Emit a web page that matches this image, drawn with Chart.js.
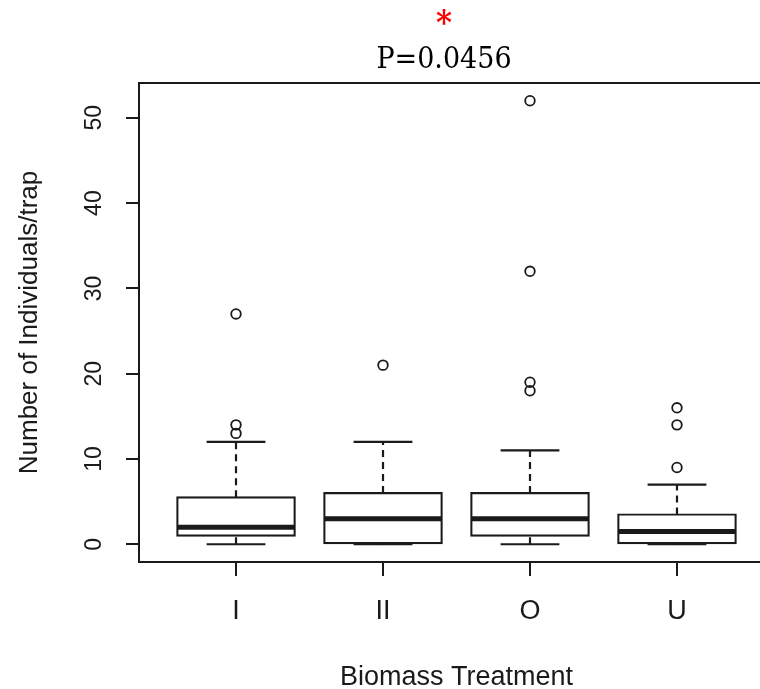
<!DOCTYPE html>
<html>
<head>
<meta charset="utf-8">
<script src="https://cdn.jsdelivr.net/npm/chart.js@4"></script>
<style>
  html, body { margin: 0; padding: 0; background: #fff; overflow: hidden; }
  #wrap { width: 888px; height: 689px; }
</style>
</head>
<body>
<div id="wrap"><canvas id="boxChart" width="888" height="689"></canvas></div>
<script>
// boxplot values
const treatments = ['I', 'II', 'O', 'U'];
const lowerWhisker = [0, 0, 0, 0];
const q1 = [1, 0, 1, 0];
const median = [2, 3, 3, 1.5];
const q3 = [5.5, 6, 6, 3.5];
const upperWhisker = [12, 12, 11, 7];
const outliers = [[13, 14, 27], [21], [18, 19, 32, 52], [9, 14, 16]];
const yTicks = [0, 10, 20, 30, 40, 50];

const INK = '#1a1a1a';
const BOX_HALF = 0.4;
const CAP_HALF = 0.2;

// R style axis ranges: data range padded by 4% each side
const xMin = 0.5 - 0.04 * 4, xMax = 4.5 + 0.04 * 4;
const yMin = 0 - 0.04 * 52, yMax = 52 + 0.04 * 52;

function seg(x1, y1, x2, y2, width, dash) {
    return {
        type: 'line',
        data: [{ x: x1, y: y1 }, { x: x2, y: y2 }],
        borderColor: INK,
        borderWidth: width,
        borderDash: dash || [],
        borderCapStyle: 'butt',
        pointRadius: 0,
        fill: false,
        tension: 0
    };
}

const datasets = [];

// boxes: thin border inflated so the 2px outline sits centred on q1/q3
datasets.push({
    type: 'bar',
    data: treatments.map((t, i) => ({ x: i + 1, y: [q1[i], q3[i]] })),
    backgroundColor: 'rgba(0,0,0,0)',
    borderColor: INK,
    borderWidth: 0.2,
    inflateAmount: 1,
    borderSkipped: false,
    categoryPercentage: 1,
    barPercentage: 2 * BOX_HALF
});

treatments.forEach((t, i) => {
    const x = i + 1;
    // whisker stems
    datasets.push(seg(x, q3[i], x, upperWhisker[i], 2.2, [7, 5]));
    datasets.push(seg(x, lowerWhisker[i], x, q1[i], 2.2, [7, 5]));
    // caps
    datasets.push(seg(x - CAP_HALF, upperWhisker[i], x + CAP_HALF, upperWhisker[i], 2.2));
    datasets.push(seg(x - CAP_HALF, lowerWhisker[i], x + CAP_HALF, lowerWhisker[i], 2.2));
    // median
    datasets.push(seg(x - BOX_HALF, median[i], x + BOX_HALF, median[i], 5));
});

datasets.push({
    type: 'scatter',
    data: outliers.flatMap((arr, i) => arr.map(v => ({ x: i + 1, y: v }))),
    pointStyle: 'circle',
    pointRadius: 4.8,
    pointBorderWidth: 1.8,
    pointBorderColor: INK,
    pointBackgroundColor: 'rgba(0,0,0,0)'
});

const chart = new Chart(document.getElementById('boxChart'), {
    type: 'bar',
    data: { datasets },
    options: {
        responsive: false,
        animation: false,
        layout: { padding: 0 },
        plugins: {
            legend: { display: false },
            tooltip: { enabled: false },
            title: {
                display: true,
                text: '*',
                color: '#ff0000',
                font: { family: "'DejaVu Serif Condensed', 'DejaVu Serif', serif", size: 34, weight: 'bold', lineHeight: 1 },
                padding: { top: 8, bottom: 0 }
            },
            subtitle: {
                display: true,
                text: 'P=0.0456',
                color: '#000',
                font: { family: "'DejaVu Serif Condensed', 'DejaVu Serif', serif", size: 30, weight: 'normal', lineHeight: 1 },
                padding: { top: 3.5, bottom: 7.5 }
            }
        },
        scales: {
            x: {
                type: 'linear',
                position: 'bottom',
                min: xMin,
                max: xMax,
                offset: false,
                afterBuildTicks: (s) => { s.ticks = treatments.map((t, i) => ({ value: i + 1 })); },
                afterFit: (s) => { s.height = 127; },
                grid: { display: true, drawOnChartArea: false, offset: false, tickLength: 14, color: INK, lineWidth: 2 },
                border: { display: true, color: INK, width: 2 },
                ticks: {
                    color: INK,
                    padding: 19,
                    maxRotation: 0,
                    font: { family: "'Liberation Sans', Arial, sans-serif", size: 27 },
                    callback: (v) => treatments[v - 1]
                },
                title: {
                    display: true,
                    text: 'Biomass Treatment',
                    color: INK,
                    font: { family: "'Liberation Sans', Arial, sans-serif", size: 27, lineHeight: 1 },
                    padding: { top: 0, bottom: -2 }
                }
            },
            xTop: {
                type: 'linear',
                position: 'top',
                min: xMin,
                max: xMax,
                afterFit: (s) => { s.height = 0; },
                grid: { display: false, drawTicks: false },
                ticks: { display: false },
                border: { display: true, color: INK, width: 2 }
            },
            y: {
                type: 'linear',
                position: 'left',
                min: yMin,
                max: yMax,
                afterBuildTicks: (s) => { s.ticks = yTicks.map(v => ({ value: v })); },
                afterFit: (s) => { s.width = 139; },
                grid: { display: true, drawOnChartArea: false, tickLength: 13, color: INK, lineWidth: 2 },
                border: { display: true, color: INK, width: 2 },
                ticks: {
                    color: INK,
                    minRotation: 90,
                    maxRotation: 90,
                    crossAlign: 'center',
                    padding: 19,
                    font: { family: "'Liberation Sans', Arial, sans-serif", size: 23 }
                },
                title: {
                    display: true,
                    text: 'Number of Individuals/trap',
                    color: INK,
                    font: { family: "'Liberation Sans', Arial, sans-serif", size: 26, lineHeight: 1.2 },
                    padding: { top: 14, bottom: 0 }
                }
            },
            // empty right-hand margin (the reference is cut off past the plot edge)
            yRight: {
                type: 'linear',
                position: 'right',
                min: yMin,
                max: yMax,
                afterFit: (s) => { s.width = 114; },
                grid: { display: false, drawTicks: false },
                ticks: { display: false },
                border: { display: false }
            }
        }
    }
});
</script>
</body>
</html>
